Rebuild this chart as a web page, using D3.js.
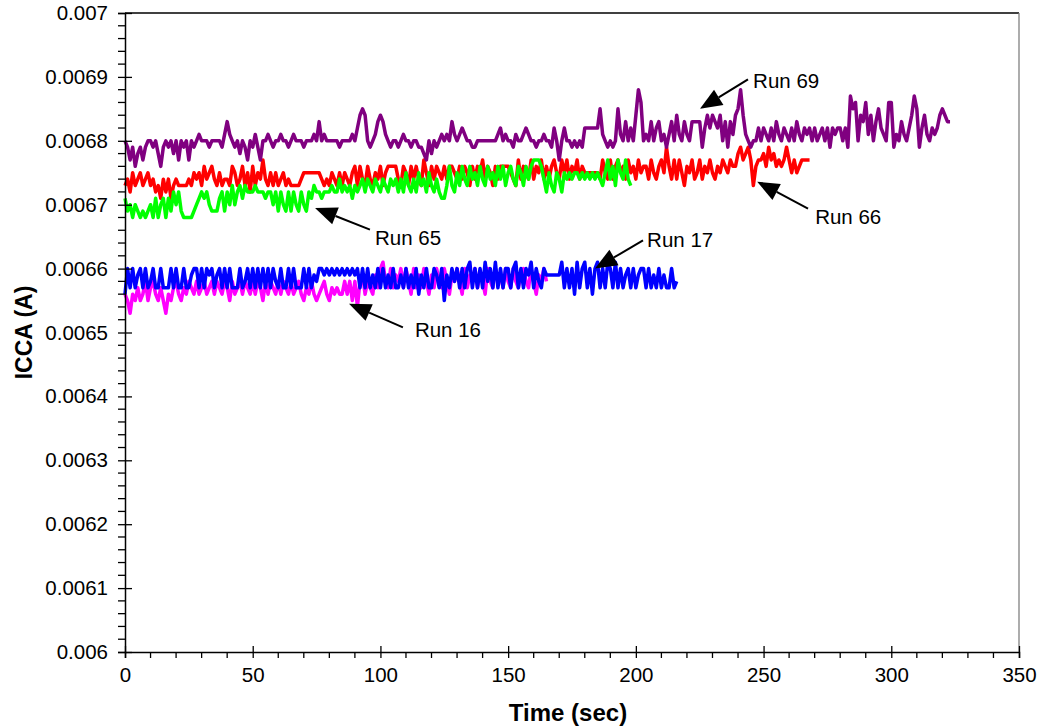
<!DOCTYPE html>
<html>
<head>
<meta charset="utf-8">
<script src="https://cdn.jsdelivr.net/npm/d3@7"></script>
<style>
  html, body { margin: 0; padding: 0; background: #fff; }
  svg { display: block; }
  text { font-family: "Liberation Sans", Arial, sans-serif; fill: #000; }
</style>
</head>
<body>
<svg id="chart" width="1044" height="728"></svg>
<script>
// ICCA readings in mA, one sample per second
const sampleStep = 1;

const run69 = [6.80,6.79,6.77,6.79,6.76,6.78,6.79,6.77,6.79,6.80,6.80,6.79,6.80,6.78,6.76,6.79,6.80,6.79,6.80,6.78,
6.80,6.77,6.80,6.79,6.80,6.77,6.80,6.79,6.80,6.81,6.80,6.80,6.80,6.79,6.80,6.80,6.80,6.80,6.79,6.81,
6.83,6.81,6.80,6.79,6.80,6.78,6.80,6.79,6.77,6.80,6.79,6.81,6.79,6.77,6.80,6.80,6.81,6.80,6.79,6.80,
6.80,6.81,6.80,6.80,6.79,6.80,6.81,6.80,6.80,6.80,6.79,6.80,6.80,6.80,6.81,6.80,6.83,6.80,6.81,6.80,
6.80,6.80,6.80,6.80,6.79,6.80,6.80,6.80,6.80,6.81,6.80,6.82,6.84,6.85,6.84,6.80,6.79,6.80,6.81,6.83,
6.84,6.83,6.81,6.80,6.79,6.80,6.80,6.79,6.80,6.81,6.80,6.80,6.79,6.80,6.80,6.79,6.79,6.78,6.77,6.80,
6.78,6.80,6.79,6.80,6.81,6.80,6.81,6.80,6.83,6.81,6.80,6.81,6.82,6.81,6.80,6.80,6.79,6.79,6.80,6.80,
6.80,6.80,6.80,6.80,6.80,6.80,6.81,6.82,6.80,6.81,6.80,6.80,6.79,6.81,6.80,6.80,6.81,6.82,6.81,6.80,
6.80,6.79,6.80,6.80,6.81,6.80,6.80,6.79,6.82,6.80,6.77,6.80,6.82,6.80,6.80,6.79,6.80,6.79,6.80,6.79,
6.82,6.82,6.82,6.82,6.82,6.82,6.85,6.81,6.80,6.79,6.80,6.79,6.80,6.85,6.81,6.80,6.83,6.80,6.82,6.80,
6.84,6.88,6.86,6.80,6.81,6.80,6.83,6.80,6.82,6.83,6.80,6.81,6.79,6.81,6.83,6.80,6.84,6.81,6.80,6.83,
6.81,6.80,6.83,6.83,6.83,6.83,6.79,6.82,6.84,6.82,6.84,6.83,6.82,6.84,6.80,6.83,6.79,6.83,6.81,6.84,
6.85,6.88,6.84,6.81,6.80,6.79,6.80,6.80,6.82,6.80,6.82,6.81,6.80,6.82,6.80,6.83,6.81,6.80,6.82,6.81,
6.80,6.82,6.80,6.83,6.81,6.80,6.82,6.81,6.82,6.80,6.82,6.80,6.81,6.82,6.80,6.82,6.79,6.82,6.81,6.82,
6.82,6.80,6.82,6.79,6.87,6.85,6.86,6.80,6.84,6.83,6.86,6.81,6.84,6.80,6.83,6.85,6.82,6.81,6.80,6.86,
6.86,6.79,6.81,6.80,6.83,6.81,6.80,6.82,6.84,6.87,6.85,6.79,6.82,6.84,6.81,6.80,6.82,6.81,6.82,6.84,
6.85,6.84,6.83,6.83];

const run66 = [6.73,6.74,6.72,6.75,6.73,6.74,6.75,6.73,6.74,6.75,6.73,6.74,6.72,6.73,6.71,6.74,6.72,6.74,6.71,6.73,
6.74,6.73,6.73,6.73,6.73,6.74,6.73,6.75,6.74,6.75,6.73,6.76,6.74,6.75,6.76,6.74,6.73,6.75,6.73,6.74,
6.74,6.73,6.76,6.75,6.73,6.74,6.76,6.73,6.75,6.72,6.76,6.73,6.75,6.74,6.77,6.74,6.73,6.75,6.73,6.75,
6.73,6.74,6.75,6.73,6.74,6.73,6.73,6.73,6.73,6.74,6.75,6.75,6.75,6.75,6.75,6.75,6.75,6.74,6.73,6.74,
6.73,6.75,6.74,6.73,6.75,6.73,6.75,6.74,6.73,6.75,6.76,6.73,6.76,6.74,6.73,6.76,6.74,6.73,6.75,6.74,
6.76,6.73,6.75,6.76,6.76,6.76,6.76,6.74,6.73,6.76,6.75,6.73,6.76,6.74,6.76,6.74,6.73,6.77,6.75,6.73,
6.76,6.74,6.76,6.75,6.74,6.76,6.74,6.76,6.76,6.75,6.74,6.76,6.74,6.76,6.75,6.73,6.76,6.74,6.76,6.75,
6.77,6.74,6.76,6.75,6.73,6.76,6.74,6.76,6.76,6.76,6.76,6.75,6.74,6.73,6.77,6.74,6.76,6.75,6.74,6.77,
6.74,6.76,6.75,6.77,6.74,6.76,6.74,6.76,6.77,6.75,6.74,6.77,6.75,6.77,6.74,6.76,6.75,6.77,6.74,6.76,
6.75,6.75,6.75,6.75,6.75,6.75,6.74,6.77,6.75,6.74,6.77,6.74,6.76,6.77,6.75,6.76,6.74,6.77,6.75,6.76,
6.74,6.77,6.75,6.76,6.76,6.74,6.77,6.75,6.74,6.76,6.77,6.75,6.79,6.76,6.74,6.77,6.74,6.77,6.75,6.73,
6.76,6.75,6.77,6.74,6.75,6.77,6.74,6.76,6.75,6.77,6.75,6.74,6.76,6.75,6.77,6.76,6.75,6.77,6.76,6.76,
6.78,6.79,6.77,6.78,6.79,6.77,6.73,6.76,6.77,6.77,6.78,6.76,6.79,6.77,6.78,6.76,6.77,6.76,6.77,6.79,
6.77,6.75,6.77,6.75,6.76,6.77,6.77,6.77,6.77];

const run65 = [6.71,6.69,6.70,6.68,6.70,6.69,6.68,6.69,6.68,6.69,6.70,6.68,6.71,6.68,6.70,6.71,6.68,6.71,6.69,6.72,
6.70,6.72,6.69,6.68,6.68,6.68,6.68,6.69,6.70,6.71,6.72,6.71,6.72,6.70,6.69,6.69,6.69,6.71,6.72,6.69,
6.72,6.70,6.73,6.70,6.72,6.73,6.71,6.73,6.72,6.72,6.72,6.73,6.72,6.72,6.72,6.71,6.72,6.72,6.70,6.72,
6.69,6.72,6.70,6.69,6.72,6.69,6.72,6.70,6.69,6.72,6.70,6.69,6.72,6.71,6.73,6.72,6.72,6.71,6.72,6.72,
6.72,6.73,6.72,6.72,6.74,6.72,6.73,6.72,6.73,6.71,6.73,6.72,6.73,6.74,6.72,6.74,6.73,6.72,6.74,6.73,
6.72,6.74,6.73,6.72,6.74,6.73,6.74,6.72,6.74,6.72,6.75,6.73,6.72,6.74,6.72,6.75,6.73,6.74,6.72,6.75,
6.73,6.72,6.74,6.72,6.71,6.71,6.73,6.76,6.73,6.72,6.75,6.73,6.76,6.74,6.73,6.76,6.74,6.75,6.73,6.76,
6.74,6.73,6.76,6.74,6.75,6.73,6.76,6.74,6.76,6.73,6.75,6.76,6.74,6.73,6.76,6.75,6.73,6.76,6.74,6.76,
6.77,6.77,6.77,6.76,6.74,6.72,6.75,6.73,6.72,6.75,6.74,6.72,6.75,6.74,6.75,6.74,6.75,6.75,6.74,6.75,
6.74,6.75,6.74,6.75,6.74,6.75,6.74,6.73,6.75,6.77,6.74,6.76,6.73,6.77,6.75,6.74,6.77,6.74,6.73];

const run17 = [6.56,6.60,6.57,6.60,6.57,6.59,6.60,6.57,6.60,6.57,6.58,6.60,6.57,6.57,6.60,6.57,6.57,6.57,6.60,6.57,
6.60,6.57,6.57,6.60,6.57,6.57,6.59,6.60,6.60,6.57,6.60,6.57,6.60,6.59,6.60,6.57,6.59,6.60,6.57,6.60,
6.57,6.60,6.57,6.57,6.57,6.60,6.57,6.58,6.60,6.57,6.60,6.57,6.60,6.57,6.60,6.57,6.60,6.57,6.60,6.58,
6.57,6.60,6.57,6.57,6.60,6.57,6.60,6.57,6.57,6.57,6.60,6.57,6.60,6.57,6.59,6.58,6.60,6.60,6.59,6.60,
6.59,6.60,6.59,6.60,6.59,6.60,6.59,6.60,6.59,6.60,6.59,6.60,6.57,6.60,6.57,6.60,6.57,6.59,6.57,6.60,
6.57,6.60,6.57,6.59,6.57,6.60,6.57,6.57,6.59,6.57,6.60,6.57,6.59,6.57,6.60,6.56,6.59,6.57,6.60,6.57,
6.57,6.60,6.59,6.57,6.60,6.55,6.59,6.57,6.60,6.58,6.60,6.57,6.60,6.57,6.60,6.61,6.57,6.60,6.57,6.60,
6.57,6.61,6.58,6.60,6.57,6.61,6.57,6.60,6.57,6.60,6.60,6.57,6.60,6.61,6.57,6.60,6.57,6.60,6.59,6.61,
6.57,6.60,6.58,6.57,6.60,6.59,6.59,6.59,6.59,6.59,6.59,6.61,6.57,6.60,6.57,6.60,6.56,6.61,6.57,6.60,
6.61,6.57,6.60,6.56,6.60,6.61,6.57,6.60,6.57,6.61,6.60,6.57,6.61,6.57,6.60,6.57,6.59,6.60,6.57,6.60,
6.57,6.59,6.60,6.60,6.57,6.60,6.57,6.59,6.57,6.60,6.57,6.59,6.57,6.57,6.60,6.57,6.58];

const run16 = [6.56,6.55,6.53,6.56,6.55,6.57,6.55,6.56,6.58,6.55,6.57,6.58,6.56,6.55,6.57,6.55,6.53,6.56,6.55,6.57,
6.58,6.56,6.55,6.57,6.56,6.58,6.57,6.56,6.58,6.56,6.57,6.58,6.56,6.57,6.58,6.56,6.58,6.57,6.56,6.58,
6.57,6.55,6.58,6.56,6.57,6.58,6.56,6.58,6.57,6.56,6.58,6.56,6.58,6.57,6.55,6.58,6.56,6.58,6.57,6.56,
6.58,6.56,6.58,6.57,6.56,6.58,6.56,6.57,6.58,6.56,6.55,6.57,6.56,6.58,6.56,6.55,6.56,6.57,6.58,6.56,
6.55,6.57,6.56,6.57,6.56,6.56,6.58,6.56,6.58,6.55,6.58,6.54,6.58,6.59,6.56,6.58,6.57,6.56,6.59,6.57,
6.60,6.61,6.58,6.57,6.60,6.57,6.59,6.58,6.60,6.57,6.60,6.58,6.56,6.60,6.57,6.59,6.57,6.60,6.58,6.56,
6.59,6.57,6.60,6.58,6.57,6.60,6.58,6.56,6.59,6.58,6.60,6.58,6.56,6.60,6.57,6.59,6.58,6.60,6.57,6.59,
6.58,6.56,6.60,6.58,6.57,6.60,6.58,6.59,6.57,6.60,6.58,6.57,6.60,6.58,6.57,6.59,6.60,6.58,6.57,6.60,
6.58,6.56,6.59,6.58,6.60,6.58];

// Series, drawn bottom to top
const seriesNames = ["Run 16", "Run 17", "Run 66", "Run 65", "Run 69"];
const seriesValues = [run16, run17, run66, run65, run69];
const seriesColors = ["#FF00FF", "#0000FF", "#FF0000", "#00FF00", "#800080"];

// Axis ticks
const xTickValues = [0, 50, 100, 150, 200, 250, 300, 350];
const xTickLabels = ["0", "50", "100", "150", "200", "250", "300", "350"];
const yTickValues = [0.006, 0.0061, 0.0062, 0.0063, 0.0064, 0.0065, 0.0066, 0.0067, 0.0068, 0.0069, 0.007];
const yTickLabels = ["0.006", "0.0061", "0.0062", "0.0063", "0.0064", "0.0065", "0.0066", "0.0067", "0.0068", "0.0069", "0.007"];

// Callouts: label, arrow tip (sec, mA), arrow tail (sec, mA), text anchor (sec, mA)
const calloutLabels = ["Run 69", "Run 66", "Run 65", "Run 16", "Run 17"];
const calloutTips   = [[225.1, 6.850], [247.5, 6.736], [74.4, 6.695], [87.7, 6.545], [184.0, 6.600]];
const calloutTails  = [[243.9, 6.896], [267.4, 6.694], [95.9, 6.661], [108.8, 6.508], [202.8, 6.644]];
const calloutText   = [[245.9, 6.894], [270.2, 6.681], [97.9, 6.648], [113.5, 6.504], [204.4, 6.645]];

const svg = d3.select("#chart");
const plot = { left: 125, right: 1019, top: 13, bottom: 652 };

const x = d3.scaleLinear().domain([0, 350]).range([plot.left, plot.right]);
const y = d3.scaleLinear().domain([0.006, 0.007]).range([plot.bottom, plot.top]);
const mA = v => v / 1000;

// Plot area frame
svg.append("line")
  .attr("x1", plot.left).attr("x2", plot.right)
  .attr("y1", plot.top).attr("y2", plot.top)
  .attr("stroke", "#000").attr("stroke-width", 1.3);
svg.append("line")
  .attr("x1", plot.right).attr("x2", plot.right)
  .attr("y1", plot.top).attr("y2", plot.bottom)
  .attr("stroke", "#808080").attr("stroke-width", 1.3);

// Data lines
const line = d3.line()
  .x((d, i) => x(i * sampleStep))
  .y(d => y(mA(d)));

svg.append("g").selectAll("path")
  .data(seriesValues)
  .join("path")
  .attr("d", line)
  .attr("fill", "none")
  .attr("stroke", (d, i) => seriesColors[i])
  .attr("stroke-width", 3.5)
  .attr("stroke-linejoin", "round");

// Y axis
const yAxis = svg.append("g")
  .attr("transform", `translate(${plot.left},0)`)
  .call(d3.axisLeft(y)
    .tickValues(yTickValues)
    .tickFormat((d, i) => yTickLabels[i])
    .tickSize(7)
    .tickPadding(10));
yAxis.select(".domain").attr("stroke", "#000").attr("stroke-width", 1.5);
yAxis.selectAll(".tick line").attr("stroke", "#000").attr("stroke-width", 1.3)
  .attr("x2", -7).attr("x1", 7);
yAxis.selectAll(".tick text")
  .style("font-family", '"Liberation Sans", Arial, sans-serif')
  .style("font-size", "20.5px");

// Y minor ticks
const yMinor = d3.range(0, 51).map(k => 0.006 + k * 0.00002).filter((v, k) => k % 5 !== 0);
svg.append("g").selectAll("line")
  .data(yMinor)
  .join("line")
  .attr("x1", plot.left - 7).attr("x2", plot.left)
  .attr("y1", d => y(d)).attr("y2", d => y(d))
  .attr("stroke", "#000").attr("stroke-width", 1.3);

// X axis
const xAxis = svg.append("g")
  .attr("transform", `translate(0,${plot.bottom})`)
  .call(d3.axisBottom(x)
    .tickValues(xTickValues)
    .tickFormat((d, i) => xTickLabels[i])
    .tickSize(6)
    .tickPadding(9));
xAxis.select(".domain").attr("stroke", "#000").attr("stroke-width", 1.5);
xAxis.selectAll(".tick line").attr("stroke", "#000").attr("stroke-width", 1.3)
  .attr("y1", -6).attr("y2", 6);
xAxis.selectAll(".tick text")
  .style("font-family", '"Liberation Sans", Arial, sans-serif')
  .style("font-size", "20.5px");

// X minor ticks
const xMinor = d3.range(0, 351, 10).filter(v => v % 50 !== 0);
svg.append("g").selectAll("line")
  .data(xMinor)
  .join("line")
  .attr("x1", d => x(d)).attr("x2", d => x(d))
  .attr("y1", plot.bottom).attr("y2", plot.bottom + 6)
  .attr("stroke", "#000").attr("stroke-width", 1.3);

// Axis titles
svg.append("text")
  .attr("x", 568)
  .attr("y", 721)
  .attr("text-anchor", "middle")
  .style("font-size", "24px")
  .style("font-weight", "bold")
  .text("Time (sec)");

svg.append("text")
  .attr("transform", `translate(32,${(plot.top + plot.bottom) / 2}) rotate(-90)`)
  .attr("text-anchor", "middle")
  .style("font-size", "23px")
  .style("font-weight", "bold")
  .text("ICCA (A)");

// Callout arrows
const callouts = svg.append("g");
calloutLabels.forEach((label, i) => {
  const tip = [x(calloutTips[i][0]), y(mA(calloutTips[i][1]))];
  const tail = [x(calloutTails[i][0]), y(mA(calloutTails[i][1]))];
  const ang = Math.atan2(tip[1] - tail[1], tip[0] - tail[0]);
  const len = 22, half = 9;
  const bx = tip[0] - len * Math.cos(ang), by = tip[1] - len * Math.sin(ang);
  const px = -Math.sin(ang) * half, py = Math.cos(ang) * half;

  callouts.append("line")
    .attr("x1", tail[0]).attr("y1", tail[1])
    .attr("x2", bx).attr("y2", by)
    .attr("stroke", "#000").attr("stroke-width", 2);
  callouts.append("path")
    .attr("d", `M${tip[0]},${tip[1]}L${bx + px},${by + py}L${bx - px},${by - py}Z`)
    .attr("fill", "#000");
  callouts.append("text")
    .attr("x", x(calloutText[i][0]))
    .attr("y", y(mA(calloutText[i][1])))
    .attr("dy", "0.35em")
    .style("font-size", "20.5px")
    .text(label);
});
</script>
</body>
</html>
